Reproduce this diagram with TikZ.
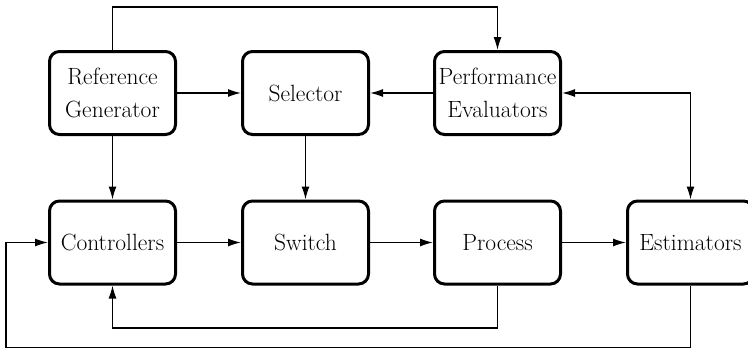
\documentclass[tikz,border=0pt]{standalone}
\usepackage{fontspec}
\usetikzlibrary{arrows.meta}

\tikzset{
  block/.style={draw, line width=3pt, rounded corners=10pt,
    minimum width=126pt, minimum height=83pt, inner sep=0pt,
    align=center, font=\fontsize{23.5}{32.6}\selectfont},
  link/.style={line width=1.3pt, -{Latex[length=13pt,width=8pt]}},
  both/.style={line width=1.3pt, {Latex[length=13pt,width=8pt]}-{Latex[length=13pt,width=8pt]}}
}

\begin{document}
\begin{tikzpicture}[x=1pt, y=-1pt]
  \useasboundingbox (0,0) rectangle (748,349);

  % upper row
  \node[block] (ref)  at (112.5,93) {Reference\\Generator};
  \node[block] (sel)  at (305.5,93) {Selector};
  \node[block] (perf) at (497.5,93) {Performance\\Evaluators};

  % lower row
  \node[block] (ctrl) at (112.5,242.5) {Controllers};
  \node[block] (sw)   at (305.5,242.5) {Switch};
  \node[block] (proc) at (497.5,242.5) {Process};
  \node[block] (est)  at (690.5,242.5) {Estimators};

  % levels of the routed connectors
  \coordinate (top) at (0,7);
  \coordinate (fb)  at (0,328);
  \coordinate (low) at (6,347.5);

  % signal flow
  \draw[link] (ref) -- (sel);
  \draw[link] (perf) -- (sel);
  \draw[link] (ref) -- (ctrl);
  \draw[link] (sel) -- (sw);
  \draw[link] (ctrl) -- (sw);
  \draw[link] (sw) -- (proc);
  \draw[link] (proc) -- (est);

  % reference to the evaluators over the top
  \draw[link] (ref.north) -- (ref.north |- top) -| (perf.north);

  % estimators and evaluators, both ways
  \draw[both] (perf.east) -| (est.north);

  % process output back to the controllers
  \draw[link] (proc.south) -- (proc.south |- fb) -| (ctrl.south);

  % estimates back to the controllers
  \draw[link] (est.south) |- (low) |- (ctrl.west);
\end{tikzpicture}
\end{document}
